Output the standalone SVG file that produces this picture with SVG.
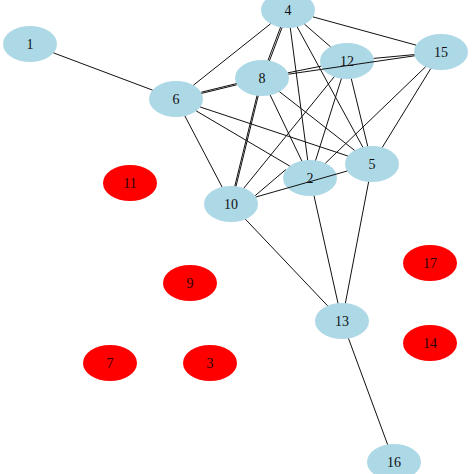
<svg xmlns="http://www.w3.org/2000/svg" width="474" height="474" viewBox="0 0 474 474">
<style>
.n ellipse{stroke:none}
.b ellipse{fill:#add8e6}
.r ellipse{fill:#ff0000}
text{font-family:"Liberation Serif","Times New Roman",serif;font-size:14px;fill:#111;text-anchor:middle;dominant-baseline:central}
.r text{fill:#2a0505}
#connectors line{stroke:#111;stroke-width:1;fill:none}
</style>
<rect width="474" height="474" fill="#fff"/>
<g id="nodes">
<g id="n1" class="n b"><ellipse cx="30" cy="44" rx="27" ry="18"/><text x="30" y="44">1</text></g>
<g id="n4" class="n b"><ellipse cx="288" cy="10" rx="27" ry="18"/><text x="288" y="10">4</text></g>
<g id="n15" class="n b"><ellipse cx="441" cy="52" rx="27" ry="18"/><text x="441" y="52">15</text></g>
<g id="n12" class="n b"><ellipse cx="347" cy="61" rx="27" ry="18"/><text x="347" y="61">12</text></g>
<g id="n8" class="n b"><ellipse cx="262" cy="78" rx="27" ry="18"/><text x="262" y="78">8</text></g>
<g id="n6" class="n b"><ellipse cx="176" cy="99" rx="27" ry="18"/><text x="176" y="99">6</text></g>
<g id="n5" class="n b"><ellipse cx="372" cy="164" rx="27" ry="18"/><text x="372" y="164">5</text></g>
<g id="n2" class="n b"><ellipse cx="310" cy="178" rx="27" ry="18"/><text x="310" y="178">2</text></g>
<g id="n10" class="n b"><ellipse cx="231" cy="204" rx="27" ry="18"/><text x="231" y="204">10</text></g>
<g id="n13" class="n b"><ellipse cx="342" cy="321" rx="27" ry="18"/><text x="342" y="321">13</text></g>
<g id="n16" class="n b"><ellipse cx="394" cy="462" rx="27" ry="18"/><text x="394" y="462">16</text></g>
<g id="n11" class="n r"><ellipse cx="130" cy="183" rx="27" ry="18"/><text x="130" y="183">11</text></g>
<g id="n9" class="n r"><ellipse cx="190" cy="283" rx="27" ry="18"/><text x="190" y="283">9</text></g>
<g id="n17" class="n r"><ellipse cx="430" cy="263" rx="27" ry="18"/><text x="430" y="263">17</text></g>
<g id="n14" class="n r"><ellipse cx="430" cy="343" rx="27" ry="18"/><text x="430" y="343">14</text></g>
<g id="n7" class="n r"><ellipse cx="110" cy="363" rx="27" ry="18"/><text x="110" y="363">7</text></g>
<g id="n3" class="n r"><ellipse cx="210" cy="363" rx="27" ry="18"/><text x="210" y="363">3</text></g>
</g>
<g id="connectors">
<line x1="53.5" y1="52.9" x2="152.5" y2="90.1"/>
<line x1="193.4" y1="85.2" x2="270.6" y2="23.8"/>
<line x1="201.5" y1="93.4" x2="236.7" y2="84.8"/>
<line x1="201.3" y1="92.2" x2="236.5" y2="83.6"/>
<line x1="184.9" y1="116" x2="222.1" y2="187"/>
<line x1="196.2" y1="110.9" x2="289.8" y2="166.1"/>
<line x1="200.2" y1="107" x2="347.8" y2="156"/>
<line x1="282" y1="27.7" x2="269.4" y2="60.9"/>
<line x1="280.6" y1="27.1" x2="268" y2="60.3"/>
<line x1="258.2" y1="95.9" x2="236" y2="186.3"/>
<line x1="257" y1="95.7" x2="234.8" y2="186.1"/>
<line x1="290.3" y1="27.9" x2="307.7" y2="160.1"/>
<line x1="297.2" y1="26.9" x2="362.8" y2="147.1"/>
<line x1="304.5" y1="24.25" x2="330.5" y2="46.75"/>
<line x1="313" y1="16.9" x2="416" y2="45.1"/>
<line x1="287.9" y1="72.8" x2="321.1" y2="66.2"/>
<line x1="288.4" y1="74.2" x2="414.6" y2="55.8"/>
<line x1="373.7" y1="58.4" x2="414.3" y2="54.6"/>
<line x1="270.2" y1="95.1" x2="301.8" y2="160.9"/>
<line x1="279.5" y1="91.7" x2="354.5" y2="150.3"/>
<line x1="334.2" y1="76.8" x2="243.8" y2="188.2"/>
<line x1="341.4" y1="78.6" x2="315.6" y2="160.4"/>
<line x1="351.3" y1="78.8" x2="367.7" y2="146.2"/>
<line x1="425.6" y1="66.8" x2="325.4" y2="163.2"/>
<line x1="430.7" y1="68.65" x2="382.3" y2="147.35"/>
<line x1="255.9" y1="197" x2="347.2" y2="171"/>
<line x1="255.2" y1="195.6" x2="285.8" y2="169.6"/>
<line x1="314" y1="195.8" x2="338" y2="303.2"/>
<line x1="368.6" y1="181.9" x2="345.4" y2="303.1"/>
<line x1="245.4" y1="219.2" x2="327.6" y2="305.8"/>
<line x1="348.5" y1="338.5" x2="387.6" y2="444.5"/>
</g>
</svg>
